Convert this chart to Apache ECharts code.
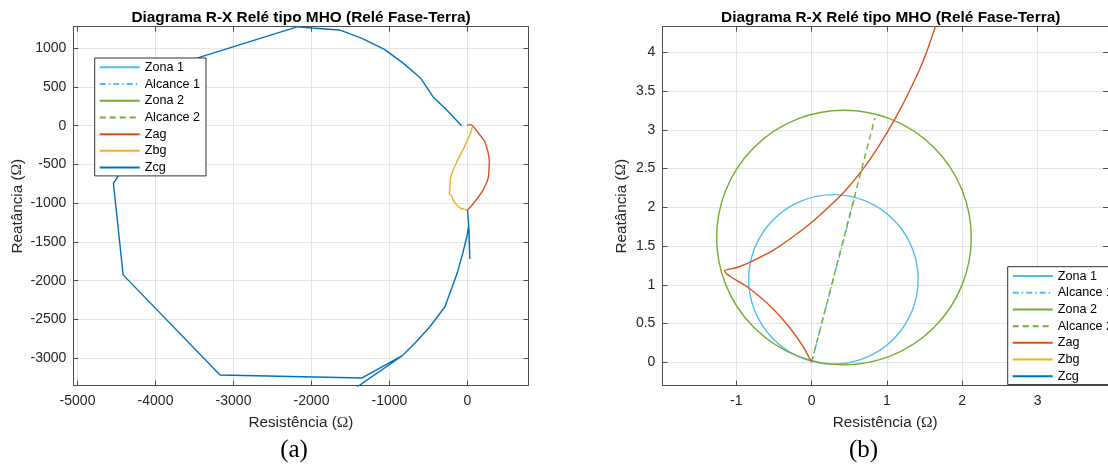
<!DOCTYPE html>
<html><head><meta charset="utf-8">
<script src="https://cdn.jsdelivr.net/npm/echarts@6/dist/echarts.min.js"></script>
<style>html,body{margin:0;padding:0;background:#fff}#c{width:1108px;height:464px}</style>
</head><body><div id="c"></div>
<script>
// ---------- data ----------
const legendNames = ['Zona 1', 'Alcance 1', 'Zona 2', 'Alcance 2', 'Zag', 'Zbg', 'Zcg'];
// Mho circles: [centre R, centre X, radius]
const zona1 = [0.29, 1.07, 1.109];
const zona2 = [0.43, 1.61, 1.666];
const alcance1 = [[0, 0], [0.58, 2.15]];
const alcance2 = [[0, 0], [0.84, 3.15]];
// panel (a)
const zagA = [[1, 13], [66, 0], [150, -110], [215, -194], [260, -330], [280, -452], [276, -560], [267, -667],
  [235, -760], [195, -839], [140, -920], [87, -990], [40, -1045], [0, -1088]];
const zbgA = [[66, -13], [20, -140], [-43, -280], [-100, -390], [-150, -495], [-200, -610], [-223, -710],
  [-225, -800], [-232, -880], [-205, -905], [-179, -968], [-107, -1054], [0, -1088]];
const zcgA = [[-76, 0], [-260, 195], [-443, 374], [-599, 611], [-821, 804], [-1065, 985], [-1353, 1127],
  [-1642, 1235], [-1997, 1261], [-2174, 1277], [-3418, 888], [-4100, 620], [-4420, -300], [-4482, -658],
  [-4540, -743], [-4415, -1925], [-3173, -3216], [-1352, -3255], [-836, -2968], [-1500, -3430],
  [-836, -2968], [-660, -2790], [-488, -2601], [-289, -2336], [-133, -1905], [-67, -1669], [-13, -1453],
  [15, -1300], [30, -1720], [20, -1380], [14, -1268], [0, -1088]];
// panel (b)
const zagB = [[1.74, 4.62], [1.65, 4.35], [1.487, 3.90], [1.30, 3.50], [1.107, 3.14], [0.88, 2.77],
  [0.658, 2.46], [0.429, 2.195], [0.235, 2.01], [0.054, 1.85], [-0.197, 1.655], [-0.50, 1.45], [-0.80, 1.30],
  [-1.0, 1.22], [-1.155, 1.178], [-0.845, 0.968], [-0.54, 0.717], [-0.284, 0.439], [-0.11, 0.20], [0, 0]];
const zbgB = [];
const zcgB = [];
// axes
const rangeXA = [-5054, 782], rangeYA = [-3355, 1277];
const rangeXB = [-1.98, 3.935], rangeYB = [-0.302, 4.33];
const stepXA = 1000, stepYA = 500, stepXB = 1, stepYB = 0.5;
const titleText = 'Diagrama R-X Relé tipo MHO (Relé Fase-Terra)';
const xLabel = 'Resistência ({o|Ω})', yLabel = 'Reatância ({o|Ω})';
const panelTags = ['(a)', '(b)'];

// ---------- styling ----------
const FONT = "'Liberation Sans', Arial, Helvetica, sans-serif";
const C = { z1: '#4DBEEE', z2: '#77AC30', ag: '#D95319', bg: '#EDB120', cg: '#0072BD' };
const AX = '#4d4d4d', TXT = '#262626', GRID = '#e4e4e4';
const LW = 1.4;
const rich = { o: { fontFamily: "'Liberation Serif', 'DejaVu Serif', serif", fontSize: 15.5, color: TXT } };

function xAxes(gi, r, step, nameGap) {
  const common = { type: 'value', gridIndex: gi, min: r[0], max: r[1], splitNumber: 6,
    minInterval: step, maxInterval: step };
  return [
    Object.assign({}, common, {
      position: 'bottom',
      axisLine: { show: true, onZero: false, lineStyle: { color: AX, width: 1 } },
      axisTick: { show: true, inside: true, length: 5, lineStyle: { color: AX } },
      axisLabel: { color: TXT, fontSize: 14, fontFamily: FONT, margin: 8, showMinLabel: false, showMaxLabel: false,
        formatter: v => String(v) },
      splitLine: { show: true, lineStyle: { color: GRID, width: 1 } },
      name: xLabel, nameLocation: 'middle', nameGap: nameGap,
      nameTextStyle: { color: TXT, fontSize: 15.3, fontFamily: FONT, rich: rich }
    }),
    Object.assign({}, common, {
      position: 'top',
      axisLine: { show: true, onZero: false, lineStyle: { color: AX, width: 1 } },
      axisTick: { show: true, inside: true, length: 5, lineStyle: { color: AX } },
      axisLabel: { show: false }, splitLine: { show: false }
    })
  ];
}
function yAxes(gi, r, step, nameGap) {
  const common = { type: 'value', gridIndex: gi, min: r[0], max: r[1], splitNumber: 9,
    minInterval: step, maxInterval: step };
  return [
    Object.assign({}, common, {
      position: 'left',
      axisLine: { show: true, onZero: false, lineStyle: { color: AX, width: 1 } },
      axisTick: { show: true, inside: true, length: 5, lineStyle: { color: AX } },
      axisLabel: { color: TXT, fontSize: 14, fontFamily: FONT, margin: 7, showMinLabel: false, showMaxLabel: false,
        formatter: v => String(v) },
      splitLine: { show: true, lineStyle: { color: GRID, width: 1 } },
      name: yLabel, nameLocation: 'middle', nameGap: nameGap,
      nameTextStyle: { color: TXT, fontSize: 15.3, fontFamily: FONT, rich: rich }
    }),
    Object.assign({}, common, {
      position: 'right',
      axisLine: { show: true, onZero: false, lineStyle: { color: AX, width: 1 } },
      axisTick: { show: true, inside: true, length: 5, lineStyle: { color: AX } },
      axisLabel: { show: false }, splitLine: { show: false }
    })
  ];
}

function lineS(name, data, color, ai, type, smooth) {
  return { type: 'line', name: name, data: data, xAxisIndex: ai, yAxisIndex: ai, symbol: 'none', showSymbol: false,
    smooth: smooth || false, clip: true, animation: false, color: color,
    itemStyle: { color: color },
    lineStyle: { color: color, width: LW, type: type || 'solid', cap: 'butt' } };
}
function circleS(name, circ, color, ai) {
  return { type: 'custom', name: name, xAxisIndex: ai, yAxisIndex: ai, clip: true, animation: false,
    itemStyle: { color: color }, data: [circ], encode: { x: 0, y: 1 },
    renderItem: function (params, api) {
      const c = api.coord([api.value(0), api.value(1)]);
      const s = api.size([api.value(2), api.value(2)]);
      return { type: 'circle', shape: { cx: c[0], cy: c[1], r: (s[0] + s[1]) / 2 },
        style: { fill: 'none', stroke: color, lineWidth: LW } };
    } };
}
const DASHDOT = [6, 3, 1.5, 3], DASH = [6, 4];
function panelSeries(ai, zag, zbg, zcg) {
  return [
    lineS('Zona 1', [], C.z1, ai),
    lineS('Zona 2', [], C.z2, ai),
    circleS('Zona 1', zona1, C.z1, ai),
    lineS('Alcance 1', alcance1, C.z1, ai, DASHDOT),
    circleS('Zona 2', zona2, C.z2, ai),
    lineS('Alcance 2', alcance2, C.z2, ai, DASH),
    lineS('Zag', zag, C.ag, ai, 'solid', 0.3),
    lineS('Zbg', zbg, C.bg, ai, 'solid', 0.3),
    lineS('Zcg', zcg, C.cg, ai)
  ];
}
function legendAt(left, top) {
  return { show: true, data: legendNames, orient: 'vertical', left: left, top: top, selectedMode: false,
    padding: [1, 6, 0, 4], itemWidth: 40, itemHeight: 14, itemGap: 0,
    backgroundColor: '#fff', borderColor: '#333', borderWidth: 1,
    itemStyle: { opacity: 0 },
    textStyle: { color: '#000', fontSize: 12.6, fontFamily: FONT, lineHeight: 16.7 } };
}
function titleAt(text, cx, top, opts) {
  return Object.assign({ text: text, left: cx, top: top, textAlign: 'center', padding: 0 }, opts);
}

const option = {
  backgroundColor: '#fff',
  animation: false,
  title: [
    titleAt(titleText, 301, 10, { textStyle: { fontSize: 15.4, fontWeight: 'bold', color: '#000', fontFamily: FONT } }),
    titleAt(titleText, 890.7, 10, { textStyle: { fontSize: 15.4, fontWeight: 'bold', color: '#000', fontFamily: FONT } }),
    titleAt(panelTags[0], 294, 438, { textStyle: { fontSize: 25, fontWeight: 'normal', color: '#000', fontFamily: "'Liberation Serif', serif" } }),
    titleAt(panelTags[1], 863.6, 438, { textStyle: { fontSize: 25, fontWeight: 'normal', color: '#000', fontFamily: "'Liberation Serif', serif" } })
  ],
  grid: [
    { left: 73.3, top: 26.7, width: 455.2, height: 359, containLabel: false },
    { left: 662.4, top: 26.7, width: 456.6, height: 359, containLabel: false }
  ],
  xAxis: [].concat(xAxes(0, rangeXA, stepXA, 29), xAxes(1, rangeXB, stepXB, 29)),
  yAxis: [].concat(yAxes(0, rangeYA, stepYA, 48), yAxes(1, rangeYB, stepYB, 33)),
  legend: [legendAt(94.7, 58), legendAt(1007.7, 266.7)],
  series: [].concat(
    panelSeries(0, zagA, zbgA, zcgA).map(s => Object.assign(s, { xAxisIndex: 0, yAxisIndex: 0 })),
    panelSeries(2, zagB, zbgB, zcgB).map(s => Object.assign(s, { xAxisIndex: 2, yAxisIndex: 2 }))
  )
};
const chart = echarts.init(document.getElementById('c'), null, { renderer: 'canvas' });
chart.setOption(option);
</script></body></html>
